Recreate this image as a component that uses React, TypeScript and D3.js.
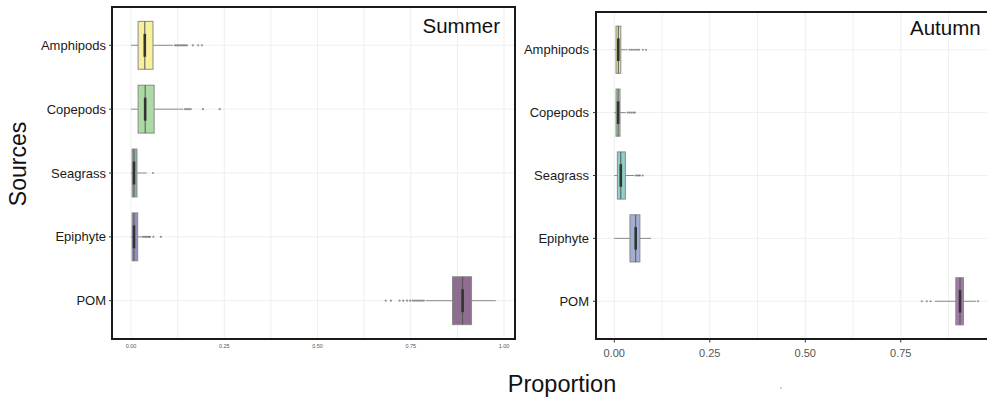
import React from "react";
import * as d3 from "d3";

const categories = ["Amphipods", "Copepods", "Seagrass", "Epiphyte", "POM"];
const xTicks = [0, 0.25, 0.5, 0.75, 1.0];
const gridTicks = [0, 0.125, 0.25, 0.375, 0.5, 0.625, 0.75, 0.875, 1.0];

// Summer
const summerQ1 = [0.019, 0.019, 0.003, 0.003, 0.862];
const summerMed = [0.037, 0.038, 0.008, 0.008, 0.889];
const summerQ3 = [0.059, 0.062, 0.016, 0.018, 0.913];
const summerLo = [0.0, 0.0, 0.0, 0.0, 0.79];
const summerHi = [0.113, 0.14, 0.042, 0.029, 0.978];
const summerOut = [
  [0.118, 0.122, 0.126, 0.13, 0.134, 0.138, 0.142, 0.146, 0.15, 0.166, 0.18, 0.19],
  [0.145, 0.15, 0.155, 0.16, 0.193, 0.238],
  [0.059],
  [0.032, 0.036, 0.04, 0.044, 0.048, 0.051, 0.06, 0.08],
  [0.683, 0.697, 0.72, 0.73, 0.74, 0.748, 0.755, 0.76, 0.765, 0.77, 0.775, 0.78, 0.785],
];
const summerColors = ["#f8f09c", "#acd9a4", "#8fb0aa", "#8f90bd", "#8e6d90"];

// Autumn
const autumnQ1 = [0.0045, 0.0045, 0.008, 0.041, 0.894];
const autumnMed = [0.0105, 0.01, 0.017, 0.056, 0.905];
const autumnQ3 = [0.017, 0.015, 0.029, 0.067, 0.914];
const autumnLo = [0.0, 0.0, 0.0, 0.0, 0.839];
const autumnHi = [0.035, 0.03, 0.052, 0.096, 0.947];
const autumnOut = [
  [0.04, 0.045, 0.05, 0.055, 0.06, 0.065, 0.075, 0.083],
  [0.035, 0.04, 0.045, 0.05, 0.054],
  [0.056, 0.06, 0.064, 0.067, 0.074],
  [],
  [0.805, 0.818, 0.828, 0.952],
];
const autumnColors = ["#ebe28e", "#9fd39e", "#8fd0c9", "#a2aed2", "#a07aa6"];

const FONT = "'Liberation Sans', Arial, Helvetica, sans-serif";

type PanelProps = {
  title: string;
  q1: number[];
  med: number[];
  q3: number[];
  lo: number[];
  hi: number[];
  out: number[][];
  colors: string[];
  xRange: [number, number];
  left: number;
  right: number;
  top: number;
  bottom: number;
  titleX: number;
  titleY: number;
  titleAnchor: string;
  labelRight: number;
  tickFont: number;
  tickY: number;
  showTickMarks: boolean;
  closedRight: boolean;
};

function Panel(p: PanelProps) {
  const x = d3.scaleLinear().domain([0, 1]).range(p.xRange);
  const y = d3.scalePoint<string>().domain(categories).range([p.top, p.bottom]).padding(0.6);
  const step = y.step();
  const bh = step * 0.75;
  const clipId = "clip-" + p.title;
  return (
    <g>
      <defs>
        <clipPath id={clipId}>
          <rect x={p.left} y={p.top} width={p.right - p.left} height={p.bottom - p.top} />
        </clipPath>
      </defs>
      <g clipPath={`url(#${clipId})`}>
        {gridTicks.map((t) => (
          <line key={"g" + t} x1={x(t)} x2={x(t)} y1={p.top} y2={p.bottom} stroke="#ebebeb" strokeWidth={0.8} />
        ))}
        {categories.map((c) => (
          <line key={"h" + c} x1={p.left} x2={p.right} y1={y(c)} y2={y(c)} stroke="#ebebeb" strokeWidth={0.8} />
        ))}
        {categories.map((c, i) => {
          const cy = y(c) as number;
          return (
            <g key={c}>
              <line x1={x(p.lo[i])} x2={x(p.q1[i])} y1={cy} y2={cy} stroke="#8a8a8a" strokeWidth={1} />
              <line x1={x(p.q3[i])} x2={x(p.hi[i])} y1={cy} y2={cy} stroke="#8a8a8a" strokeWidth={1} />
              {p.out[i].map((v, j) => (
                <circle key={j} cx={x(v)} cy={cy} r={1.1} fill="#444" fillOpacity={0.55} />
              ))}
              <rect
                x={x(p.q1[i])}
                y={cy - bh / 2}
                width={x(p.q3[i]) - x(p.q1[i])}
                height={bh}
                fill={p.colors[i]}
                stroke="#8a8a8a"
                strokeWidth={1}
              />
              <line x1={x(p.med[i])} x2={x(p.med[i])} y1={cy - bh / 2} y2={cy + bh / 2} stroke="#555" strokeWidth={1} />
              <line x1={x(p.med[i])} x2={x(p.med[i])} y1={cy - bh * 0.24} y2={cy + bh * 0.24} stroke="#333" strokeWidth={2.6} />
            </g>
          );
        })}
      </g>
      {/* frame */}
      <line x1={p.left} x2={p.left} y1={p.top - 1} y2={p.bottom + 1} stroke="#1a1a1a" strokeWidth={2} />
      <line x1={p.left} x2={p.right} y1={p.top} y2={p.top} stroke="#1a1a1a" strokeWidth={2} />
      <line x1={p.left} x2={p.right} y1={p.bottom} y2={p.bottom} stroke="#1a1a1a" strokeWidth={2} />
      {p.closedRight && (
        <line x1={p.right} x2={p.right} y1={p.top - 1} y2={p.bottom + 1} stroke="#1a1a1a" strokeWidth={2} />
      )}
      {/* y labels */}
      {categories.map((c) => (
        <g key={"yl" + c}>
          <line x1={p.left - 3} x2={p.left} y1={y(c)} y2={y(c)} stroke="#333" strokeWidth={1} />
          <text
            x={p.labelRight}
            y={(y(c) as number) + 4.5}
            textAnchor="end"
            fontSize={13}
            fill="#1a1a1a"
            fontFamily={FONT}
          >
            {c}
          </text>
        </g>
      ))}
      {/* x ticks */}
      {xTicks.map((t) =>
        x(t) <= p.right ? (
          <g key={"xt" + t}>
            {p.showTickMarks && (
              <line x1={x(t)} x2={x(t)} y1={p.bottom} y2={p.bottom + 3.5} stroke="#333" strokeWidth={1} />
            )}
            <text
              x={x(t)}
              y={p.tickY}
              textAnchor="middle"
              fontSize={p.tickFont}
              fill="#555"
              fontFamily={FONT}
            >
              {d3.format(".2f")(t)}
            </text>
          </g>
        ) : null
      )}
      <text x={p.titleX} y={p.titleY} textAnchor={p.titleAnchor} fontSize={20.5} fill="#111" fontFamily={FONT}>
        {p.title}
      </text>
    </g>
  );
}

export default function App() {
  return (
    <svg
      width={987}
      height={399}
      style={{ position: "absolute", left: 0, top: 0, background: "#fff" }}
    >
      <rect x={0} y={0} width={987} height={399} fill="#fff" />
      <Panel
        title="Summer"
        q1={summerQ1}
        med={summerMed}
        q3={summerQ3}
        lo={summerLo}
        hi={summerHi}
        out={summerOut}
        colors={summerColors}
        xRange={[131, 504]}
        left={112}
        right={515}
        top={7}
        bottom={339}
        titleX={500}
        titleY={33}
        titleAnchor="end"
        labelRight={106}
        tickFont={5.5}
        tickY={348}
        showTickMarks={false}
        closedRight={true}
      />
      <Panel
        title="Autumn"
        q1={autumnQ1}
        med={autumnMed}
        q3={autumnQ3}
        lo={autumnLo}
        hi={autumnHi}
        out={autumnOut}
        colors={autumnColors}
        xRange={[614.3, 996.3]}
        left={596}
        right={988}
        top={12}
        bottom={339}
        titleX={910}
        titleY={35}
        titleAnchor="start"
        labelRight={589}
        tickFont={11}
        tickY={357}
        showTickMarks={true}
        closedRight={false}
      />
      <text
        transform="translate(26,164) rotate(-90)"
        textAnchor="middle"
        fontSize={23}
        fill="#111"
        fontFamily={FONT}
      >
        Sources
      </text>
      <text x={562} y={392} textAnchor="middle" fontSize={23.5} fill="#111" fontFamily={FONT}>
        Proportion
      </text>
      <circle cx={781} cy={388} r={0.8} fill="#999" />
    </svg>
  );
}
